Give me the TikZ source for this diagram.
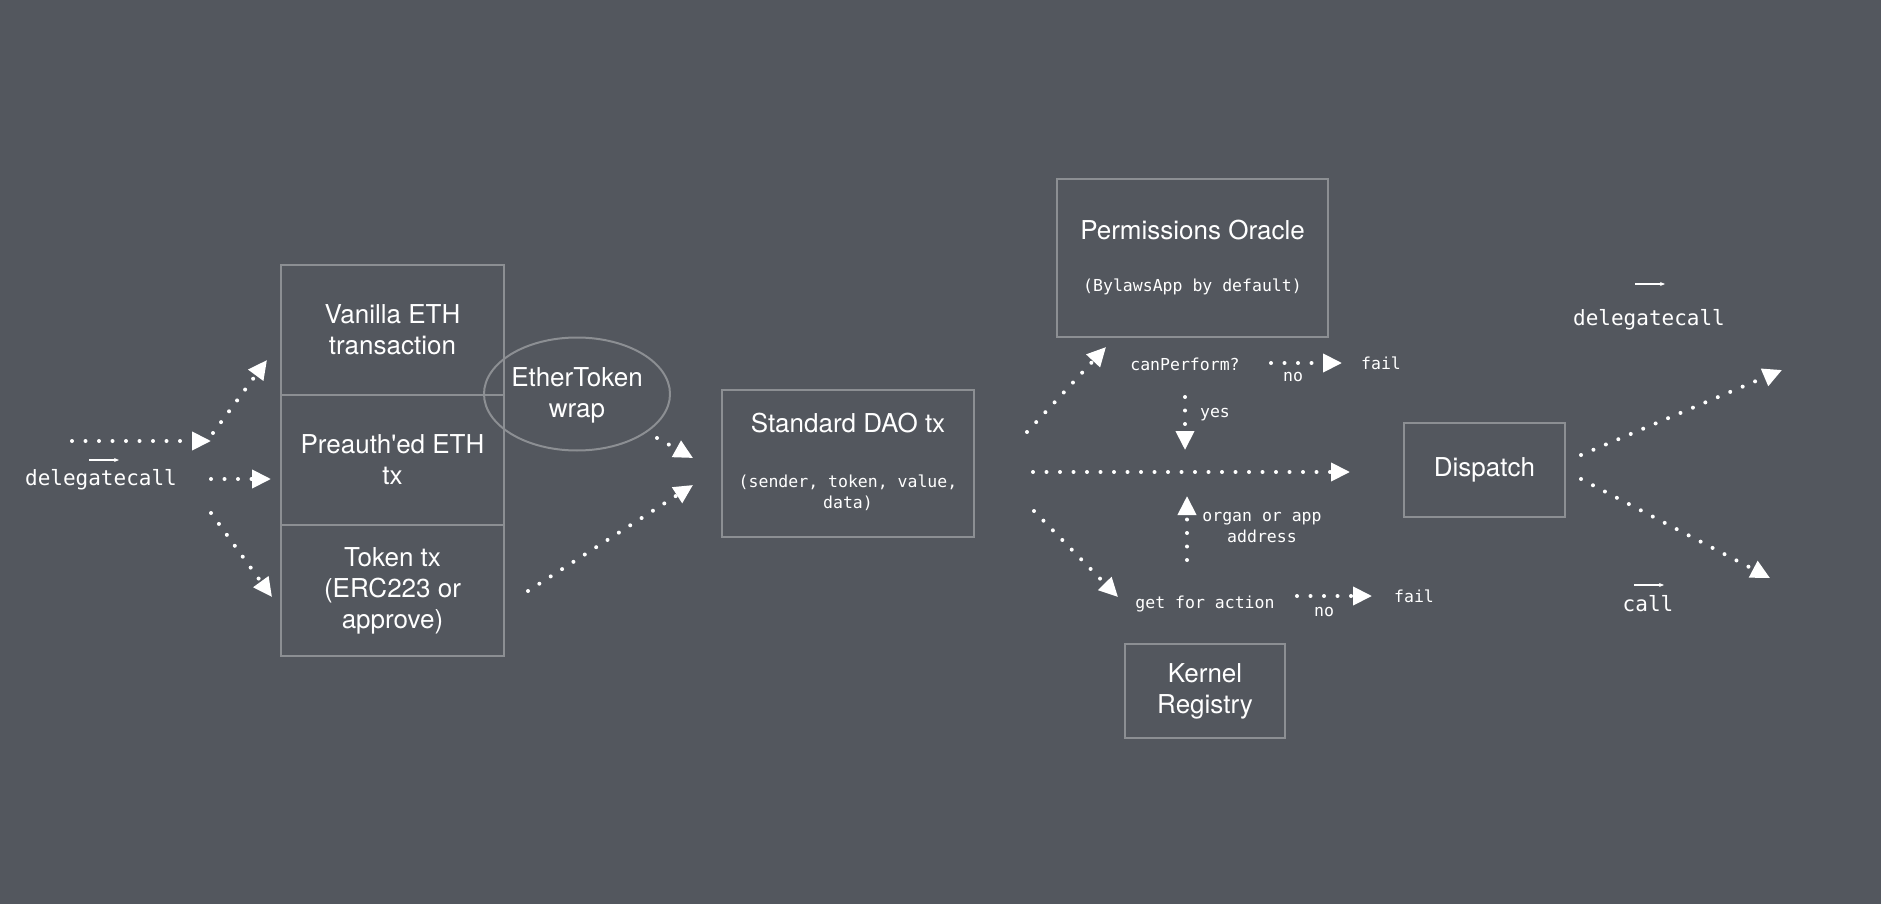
\documentclass[tikz,border=0pt]{standalone}
\usepackage{fontspec}
\newfontfamily\sansf{TeX Gyre Heros}
\newfontfamily\monof{DejaVu Sans Mono}
\usetikzlibrary{arrows.meta,shapes.geometric}
\definecolor{bg}{RGB}{83,87,94}
\definecolor{edgegray}{RGB}{140,143,147}
\begin{document}
\begin{tikzpicture}[x=1pt,y=-1pt,
  box/.style={draw=edgegray, line width=2pt, rectangle, inner sep=0pt, text=white,
              font=\sansf\fontsize{26}{31}\selectfont, align=center},
  sanst/.style={text=white, font=\sansf\fontsize{26}{31}\selectfont, align=center, inner sep=0pt},
  monot/.style={text=white, font=\monof\fontsize{16.5}{21}\selectfont, align=center, inner sep=0pt},
  bigmono/.style={text=white, font=\monof\fontsize{21}{25}\selectfont, inner sep=0pt},
  flow/.style={white, line width=4pt, line cap=round, dash pattern=on 0pt off 13.5pt,
               -{Triangle[length=19pt,width=18pt]}},
  vec/.style={white, line width=1.2pt, -{Stealth[length=5pt,width=4pt]}}
]
\fill[bg] (0,0) rectangle (1881,904);
\useasboundingbox (0,0) rectangle (1881,904);

% left stack
\node[box, minimum width=223pt, minimum height=130pt] (van) at (392.5,330) {Vanilla ETH\\transaction};
\node[box, minimum width=223pt, minimum height=130pt] (pre) at (392.5,460) {Preauth'ed ETH\\tx};
\node[box, minimum width=223pt, minimum height=131pt] (tok) at (392.5,590.5) {Token tx\\(ERC223 or\\approve)};
\node[ellipse, draw=edgegray, line width=2pt, minimum width=186pt, minimum height=113pt, inner sep=0pt] (eth) at (577,394) {};
\node[sanst] (ethtext) at (577,395) {EtherToken\\wrap};

% standard DAO tx
\node[box, minimum width=252pt, minimum height=147pt] (dao) at (848,463.5) {};
\node[sanst] (daotitle) at (848,423) {Standard DAO tx};
\node[monot] (daosub) at (848,492.5) {(sender, token, value,\\data)};

% permissions oracle
\node[box, minimum width=271pt, minimum height=158pt] (po) at (1192.5,258) {};
\node[sanst] (potitle) at (1192.5,230) {Permissions Oracle};
\node[monot] (posub) at (1192.5,287) {(BylawsApp by default)};

% dispatch, kernel registry
\node[box, minimum width=161pt, minimum height=94pt] (disp) at (1484.5,470) {Dispatch};
\node[box, minimum width=160pt, minimum height=94pt] (ker) at (1205,691) {Kernel\\Registry};

% labels
\node[bigmono] (dcl) at (101,480) {delegatecall};
\node[bigmono] (dcr) at (1649,320) {delegatecall};
\node[bigmono] (call) at (1648,604) {call};
\node[monot] (canp) at (1185,364) {canPerform?};
\node[monot] (no1) at (1293,377) {no};
\node[monot] (fail1) at (1381,363) {fail};
\node[monot] (yes) at (1215,415) {yes};
\node[monot] (organ) at (1262,527.5) {organ or app\\address};
\node[monot] (gfa) at (1205,604) {get for action};
\node[monot] (no2) at (1324,612) {no};
\node[monot] (fail2) at (1414,596) {fail};

% vector arrows over call names
\draw[vec] ([xshift=-12pt,yshift=20pt]dcl.center) -- ++(30,0);
\draw[vec] ([xshift=-14pt,yshift=36pt]dcr.center) -- ++(30,0);
\draw[vec] ([xshift=-14pt,yshift=19pt]call.center) -- ++(30,0);

% connector end points
\coordinate (a1s) at (72,441);   \coordinate (a1e) at (211,441);
\coordinate (a2s) at (213,433);  \coordinate (a2e) at (267,360);
\coordinate (a3s) at (211,479);  \coordinate (a3e) at (271,479);
\coordinate (a4s) at (211,513);  \coordinate (a4e) at (272,597);
\coordinate (a5s) at (657,438);  \coordinate (a5e) at (693,458);
\coordinate (a6s) at (528,591);  \coordinate (a6e) at (693,485);
\coordinate (a7s) at (1027,432); \coordinate (a7e) at (1106,347);
\coordinate (a8s) at (1271,363); \coordinate (a8e) at (1342,363);
\coordinate (a9s) at (1185,397); \coordinate (a9e) at (1185,450);
\coordinate (a10s) at (1033,472); \coordinate (a10e) at (1350,472);
\coordinate (a11s) at (1187,560); \coordinate (a11e) at (1187,496);
\coordinate (a12s) at (1034,511); \coordinate (a12e) at (1118,597);
\coordinate (a13s) at (1297,596); \coordinate (a13e) at (1372,596);
\coordinate (a14s) at (1581,455); \coordinate (a14e) at (1782,370);
\coordinate (a15s) at (1581,479); \coordinate (a15e) at (1770,578);

\foreach \i in {1,...,15} {\draw[flow] (a\i s) -- (a\i e);}
\end{tikzpicture}
\end{document}
